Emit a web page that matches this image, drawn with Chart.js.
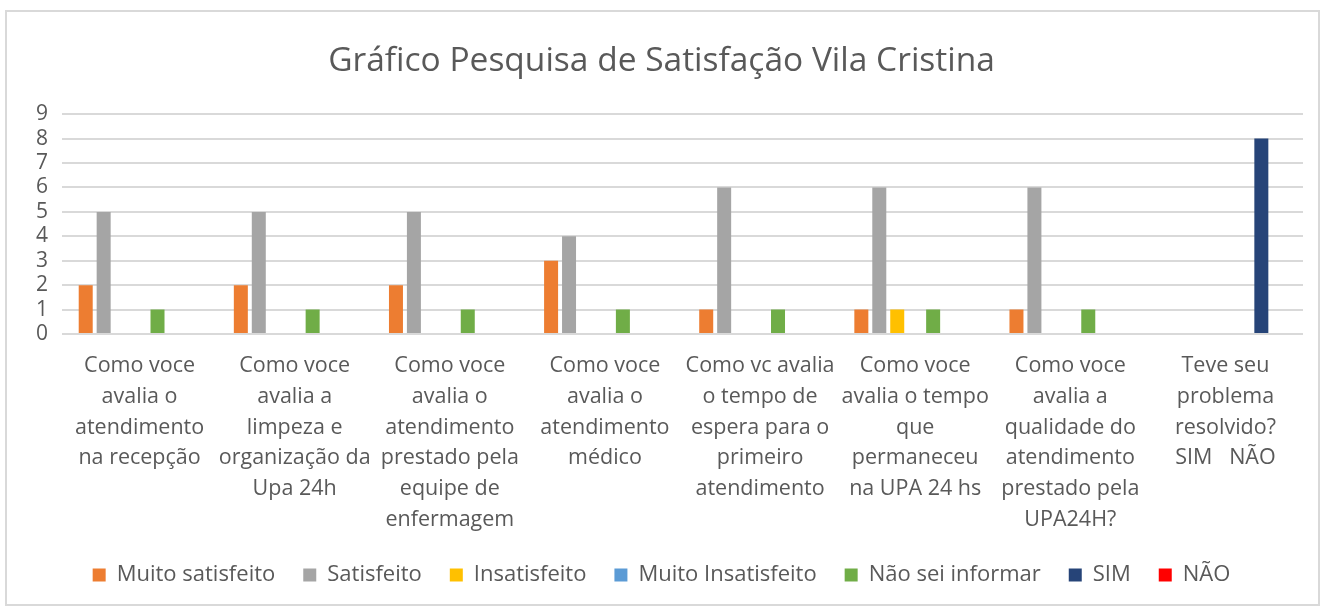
<!DOCTYPE html>
<html>
<head>
<meta charset="utf-8">
<script src="https://cdn.jsdelivr.net/npm/chart.js@4/dist/chart.umd.min.js"></script>
<style>
  html, body { margin: 0; padding: 0; background: #fff; }
  #wrap { width: 1325px; height: 608px; }
</style>
</head>
<body>
<div id="wrap"><canvas id="chart"></canvas></div>
<script>
const categories = [
  ['Como voce', 'avalia o', 'atendimento', 'na recepção'],
  ['Como voce', 'avalia a', 'limpeza e', 'organização da', 'Upa 24h'],
  ['Como voce', 'avalia o', 'atendimento', 'prestado pela', 'equipe de', 'enfermagem'],
  ['Como voce', 'avalia o', 'atendimento', 'médico'],
  ['Como vc avalia', 'o tempo de', 'espera para o', 'primeiro', 'atendimento'],
  ['Como voce', 'avalia o tempo', 'que', 'permaneceu', 'na UPA 24 hs'],
  ['Como voce', 'avalia a', 'qualidade do', 'atendimento', 'prestado pela', 'UPA24H?'],
  ['Teve seu', 'problema', 'resolvido?', 'SIM   NÃO']
];
const muitoSatisfeito = [2, 2, 2, 3, 1, 1, 1, 0];
const satisfeito = [5, 5, 5, 4, 6, 6, 6, 0];
const insatisfeito = [0, 0, 0, 0, 0, 1, 0, 0];
const muitoInsatisfeito = [0, 0, 0, 0, 0, 0, 0, 0];
const naoSeiInformar = [1, 1, 1, 1, 1, 1, 1, 0];
const sim = [0, 0, 0, 0, 0, 0, 0, 8];
const nao = [0, 0, 0, 0, 0, 0, 0, 0];
const yTicks = [0, 1, 2, 3, 4, 5, 6, 7, 8, 9];

const textColor = '#595959';
const font = '"Open Sans", Lato, sans-serif';

const frame = {
  id: 'frame',
  beforeDraw(chart) {
    const c = chart.ctx;
    c.save();
    c.strokeStyle = '#d9d9d9';
    c.lineWidth = 2;
    c.strokeRect(6, 11, chart.width - 12, chart.height - 14);
    c.restore();
  }
};

const mk = (label, data, color) => ({
  label, data, backgroundColor: color, borderWidth: 0,
  categoryPercentage: 0.81, barPercentage: 0.78
});

new Chart(document.getElementById('chart'), {
  type: 'bar',
  data: {
    labels: categories,
    datasets: [
      mk('Muito satisfeito', muitoSatisfeito, '#ED7D31'),
      mk('Satisfeito', satisfeito, '#A5A5A5'),
      mk('Insatisfeito', insatisfeito, '#FFC000'),
      mk('Muito Insatisfeito', muitoInsatisfeito, '#5B9BD5'),
      mk('Não sei informar', naoSeiInformar, '#70AD47'),
      mk('SIM', sim, '#264478'),
      mk('NÃO', nao, '#FF0000')
    ]
  },
  options: {
    responsive: true,
    maintainAspectRatio: false,
    animation: false,
    layout: { padding: { left: 20, right: 22, top: 0, bottom: 12 } },
    plugins: {
      tooltip: { enabled: false },
      title: {
        display: true,
        text: 'Gráfico Pesquisa de Satisfação Vila Cristina',
        color: textColor,
        font: { family: font, size: 33.5, weight: 'normal' },
        padding: { top: 41, bottom: 33 }
      },
      legend: {
        position: 'bottom',
        labels: {
          color: textColor,
          font: { family: font, size: 22 },
          boxWidth: 13,
          boxHeight: 13,
          padding: 28
        }
      }
    },
    scales: {
      x: {
        grid: { display: false },
        border: { display: false },
        ticks: {
          color: textColor,
          font: { family: font, size: 21.5, lineHeight: 1.44 },
          padding: 8,
          maxRotation: 0,
          autoSkip: false
        },
        afterFit(scale) { scale.height = 202; }
      },
      y: {
        min: 0,
        max: 9,
        afterBuildTicks(scale) { scale.ticks = yTicks.map(v => ({ value: v })); },
        grid: { color: '#d9d9d9', lineWidth: 2, drawTicks: false },
        border: { display: false },
        ticks: {
          color: textColor,
          font: { family: font, size: 21, lineHeight: 1 },
          padding: 14,
          autoSkip: false
        },
        afterFit(scale) { scale.width = 42; }
      }
    }
  },
  plugins: [frame]
});
</script>
</body>
</html>
